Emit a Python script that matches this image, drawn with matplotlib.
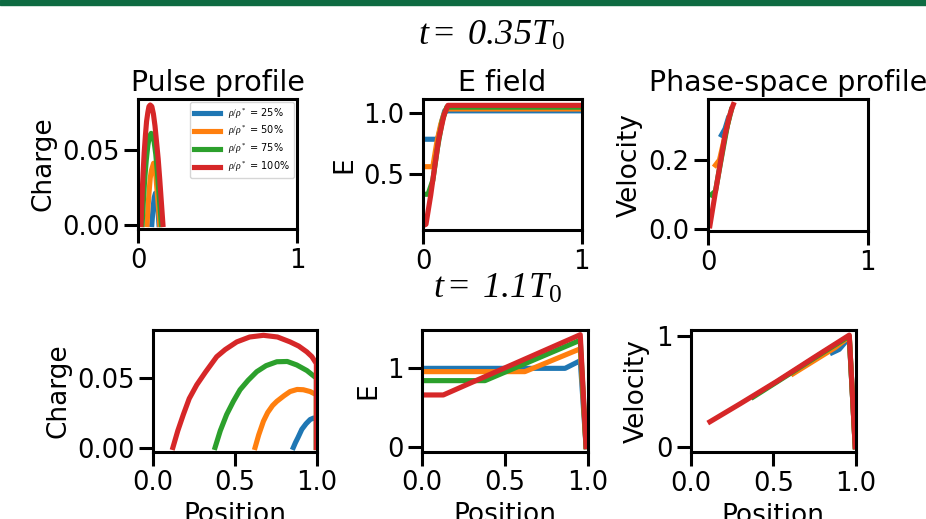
import matplotlib as mpl
mpl.use('Agg')
import matplotlib.pyplot as plt
from matplotlib.patches import Rectangle

mpl.rcParams['mathtext.fontset'] = 'custom'
mpl.rcParams['mathtext.rm'] = 'Liberation Serif'
mpl.rcParams['mathtext.it'] = 'Liberation Serif:italic'
mpl.rcParams['mathtext.bf'] = 'Liberation Serif:bold'

labels = [r'$\rho/\rho^*$ = 25%', r'$\rho/\rho^*$ = 50%',
          r'$\rho/\rho^*$ = 75%', r'$\rho/\rho^*$ = 100%']
colors = ['#1f77b4', '#ff7f0e', '#2ca02c', '#d62728']
times = [r'$t=$ 0.35$T_0$', r'$t=$ 1.1$T_0$']

# ---- t = 0.35 T0 ----
# charge (pulse profile)
q1_x = [
    [0.085, 0.093, 0.100, 0.108, 0.116, 0.124, 0.130],
    [0.055, 0.062, 0.068, 0.075, 0.082, 0.096, 0.108, 0.120, 0.128, 0.135],
    [0.024, 0.032, 0.040, 0.050, 0.060, 0.070, 0.081, 0.090, 0.100, 0.110, 0.120,
     0.132, 0.145],
    [0.017, 0.023, 0.030, 0.037, 0.045, 0.052, 0.060, 0.067, 0.075, 0.085, 0.095,
     0.105, 0.115, 0.125, 0.135, 0.145, 0.155],
]
q1_y = [
    [0.0, 0.011, 0.018, 0.021, 0.018, 0.009, 0.0],
    [0.0, 0.013, 0.022, 0.031, 0.036, 0.041, 0.036, 0.020, 0.010, 0.0],
    [0.0, 0.016, 0.030, 0.043, 0.053, 0.059, 0.061, 0.060, 0.055, 0.047, 0.035,
     0.018, 0.0],
    [0.0, 0.018, 0.034, 0.048, 0.060, 0.069, 0.075, 0.079, 0.080, 0.079, 0.074,
     0.066, 0.055, 0.044, 0.030, 0.015, 0.0],
]
# E field
e1_x = [
    [0.0, 0.090, 0.105, 0.120, 0.135, 1.0],
    [0.0, 0.060, 0.085, 0.110, 0.130, 0.145, 1.0],
    [0.0, 0.030, 0.060, 0.090, 0.120, 0.148, 1.0],
    [0.0, 0.017, 0.047, 0.072, 0.097, 0.131, 0.155, 1.0],
]
e1_y = [
    [0.787, 0.787, 0.86, 0.95, 1.02, 1.02],
    [0.562, 0.562, 0.76, 0.91, 0.99, 1.035, 1.035],
    [0.336, 0.336, 0.45, 0.72, 0.94, 1.05, 1.05],
    [0.08, 0.09, 0.33, 0.562, 0.787, 0.986, 1.065, 1.065],
]
# phase space
v1_x = [
    [0.083, 0.105, 0.125],
    [0.045, 0.070, 0.100, 0.130],
    [0.020, 0.045, 0.080, 0.120, 0.145],
    [0.010, 0.042, 0.073, 0.105, 0.130, 0.147, 0.157],
]
v1_y = [
    [0.272, 0.29, 0.32],
    [0.185, 0.20, 0.26, 0.32],
    [0.10, 0.11, 0.20, 0.30, 0.345],
    [0.01, 0.10, 0.185, 0.272, 0.322, 0.348, 0.36],
]

# ---- t = 1.1 T0 ----
q2_x = [
    [0.857, 0.870, 0.885, 0.909, 0.935, 0.960, 0.980, 0.998, 0.998],
    [0.623, 0.645, 0.674, 0.700, 0.730, 0.756, 0.800, 0.837, 0.880, 0.918, 0.960,
     0.998, 0.998],
    [0.378, 0.410, 0.449, 0.490, 0.531, 0.580, 0.633, 0.690, 0.756, 0.820, 0.878,
     0.940, 0.998, 0.998],
    [0.120, 0.150, 0.184, 0.220, 0.266, 0.320, 0.388, 0.440, 0.511, 0.590, 0.674,
     0.760, 0.837, 0.890, 0.939, 0.970, 0.998, 0.998],
]
q2_y = [
    [0.0, 0.0035, 0.007, 0.013, 0.017, 0.020, 0.021, 0.0212, 0.0],
    [0.0, 0.009, 0.0188, 0.025, 0.030, 0.033, 0.037, 0.040, 0.0415, 0.0413, 0.040,
     0.0377, 0.0],
    [0.0, 0.012, 0.0236, 0.033, 0.0413, 0.048, 0.0542, 0.0585, 0.0613, 0.0615, 0.059,
     0.055, 0.0496, 0.0],
    [0.0, 0.012, 0.0236, 0.035, 0.0448, 0.054, 0.0649, 0.070, 0.0755, 0.079, 0.0802,
     0.079, 0.0755, 0.0725, 0.0684, 0.065, 0.060, 0.0],
]
e2_x = [
    [0.0, 0.863, 0.944, 0.955, 0.99],
    [0.0, 0.620, 0.955, 0.99],
    [0.0, 0.379, 0.955, 0.99],
    [0.0, 0.127, 0.955, 0.99],
]
e2_y = [
    [1.0, 1.0, 1.086, 1.10, 0.0],
    [0.958, 0.958, 1.25, 0.0],
    [0.843, 0.843, 1.36, 0.0],
    [0.66, 0.66, 1.43, 0.0],
]
v2_x = [
    [0.857, 0.900, 0.940, 0.961, 0.997],
    [0.620, 0.750, 0.880, 0.961, 0.997],
    [0.378, 0.600, 0.800, 0.961, 0.997],
    [0.115, 0.300, 0.520, 0.750, 0.961, 0.997],
]
v2_y = [
    [0.85, 0.88, 0.95, 0.985, 0.0],
    [0.66, 0.78, 0.90, 0.995, 0.0],
    [0.45, 0.66, 0.85, 1.0, 0.0],
    [0.226, 0.39, 0.59, 0.81, 1.009, 0.0],
]

W, H = 926, 519
fig = plt.figure(figsize=(W / 100, H / 100), dpi=100)

# green bar at top of the slide
fig.patches.append(Rectangle((0, 1 - 5 / H), 1, 5 / H, transform=fig.transFigure,
                             color='#0e6b42', zorder=0))


def px_axes(left, right, top, bottom):
    return fig.add_axes([left / W, 1 - bottom / H, (right - left) / W, (bottom - top) / H])


def style(ax):
    for s in ax.spines.values():
        s.set_linewidth(2.2)
    ax.tick_params(length=10, width=2.2, labelsize=18.5)


LW = 3.7

ax1 = px_axes(138.3, 297.3, 99, 229)
ax2 = px_axes(423.3, 581.7, 99, 230)
ax3 = px_axes(708.3, 867.7, 99, 231)
ax4 = px_axes(153.3, 316.7, 330, 451.7)
ax5 = px_axes(422.3, 587.7, 330, 451.7)
ax6 = px_axes(691, 855.7, 330, 452.3)

kw = dict(lw=LW, solid_joinstyle='round')
for i in range(4):
    ax1.plot(q1_x[i], q1_y[i], color=colors[i], label=labels[i], **kw)
    ax2.plot(e1_x[i], e1_y[i], color=colors[i], **kw)
    ax3.plot(v1_x[i], v1_y[i], color=colors[i], **kw)
    ax4.plot(q2_x[i], q2_y[i], color=colors[i], **kw)
    ax5.plot(e2_x[i], e2_y[i], color=colors[i], **kw)
    ax6.plot(v2_x[i], v2_y[i], color=colors[i], **kw)

for ax in [ax1, ax2, ax3, ax4, ax5, ax6]:
    style(ax)
    ax.set_xlim(0, 1)

for ax in [ax1, ax2, ax3]:
    ax.set_xticks([0, 1])
for ax in [ax4, ax5, ax6]:
    ax.set_xticks([0, 0.5, 1.0])
    ax.set_xlabel('Position', fontsize=19)

ax1.set_ylim(-0.003, 0.084)
ax1.set_yticks([0, 0.05])
ax2.set_ylim(0.043, 1.117)
ax2.set_yticks([0.5, 1.0])
ax3.set_ylim(-0.005, 0.376)
ax3.set_yticks([0.0, 0.2])
ax4.set_ylim(-0.003, 0.084)
ax4.set_yticks([0, 0.05])
ax5.set_ylim(-0.065, 1.49)
ax5.set_yticks([0, 1])
ax6.set_ylim(-0.05, 1.055)
ax6.set_yticks([0, 1])

ax1.set_title('Pulse profile', fontsize=20.5)
ax2.set_title('E field', fontsize=20.5)
ax3.set_title('Phase-space profile', fontsize=20.5)
for ax, name in [(ax1, 'Charge'), (ax2, 'E'), (ax3, 'Velocity'),
                 (ax4, 'Charge'), (ax5, 'E'), (ax6, 'Velocity')]:
    ax.set_ylabel(name, fontsize=19)

ax1.legend(loc='upper right', fontsize=7, handlelength=2.75, labelspacing=0.35,
           borderaxespad=0.35)

for txt, cx, cy in [(times[0], 491, 36), (times[1], 497, 289)]:
    fig.text(cx / W, 1 - cy / H, txt, ha='center', va='center', fontsize=26,
             family='Liberation Serif', style='italic')

fig.savefig('out.png', dpi=100)
